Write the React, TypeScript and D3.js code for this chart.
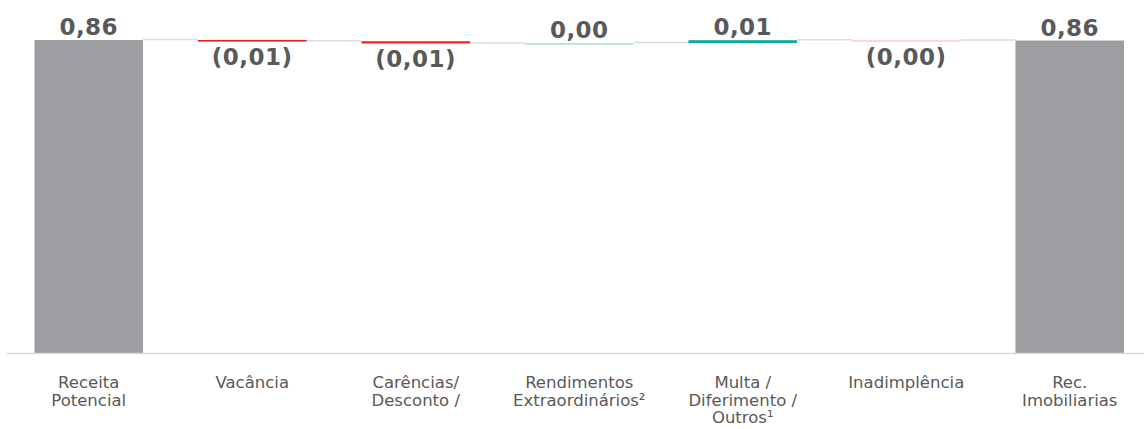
import React, { useRef, useEffect } from 'react';
import * as d3 from 'd3';

// categories (line-broken as in the chart)
const categories: string[][] = [
  ['Receita', 'Potencial'],
  ['Vacância'],
  ['Carências/', 'Desconto /'],
  ['Rendimentos', 'Extraordinários²'],
  ['Multa /', 'Diferimento /', 'Outros¹'],
  ['Inadimplência'],
  ['Rec.', 'Imobiliarias'],
];

// step values; first and last are totals
const values = [0.86, -0.0035, -0.006, 0.001, 0.008, -0.001, 0.8585];
const isTotal = [true, false, false, false, false, false, true];
const valueLabels = ['0,86', '(0,01)', '(0,01)', '0,00', '0,01', '(0,00)', '0,86'];

const barColors = ['#9d9ea2', '#ee1c1c', '#ff1a1a', '#a6e3dd', '#13ab9c', '#f9cfcf', '#9d9ea2'];

const W = 1145;
const H = 429;
const FONT = '"DejaVu Sans", Verdana, sans-serif';

const App: React.FC = () => {
  const svgRef = useRef<SVGSVGElement | null>(null);

  useEffect(() => {
    if (!svgRef.current) return;
    const svg = d3.select(svgRef.current);
    svg.selectAll('*').remove();

    const x = d3.scaleBand<number>()
      .domain(d3.range(categories.length))
      .range([7, 1151.5])
      .paddingInner(0.336)
      .paddingOuter(0.168);

    const y = d3.scaleLinear().domain([0, 0.86]).range([353, 40]);

    // running waterfall levels
    let level = 0;
    const bars = values.map((v, i) => {
      let start: number, end: number;
      if (isTotal[i]) {
        start = 0;
        end = v;
      } else {
        start = level;
        end = level + v;
      }
      level = end;
      return { i, start, end, v };
    });

    const bw = x.bandwidth();

    // connectors
    svg.append('g')
      .selectAll('line')
      .data(bars.slice(0, -1))
      .enter()
      .append('line')
      .attr('x1', d => (x(d.i) as number) + bw)
      .attr('x2', d => x(d.i + 1) as number)
      .attr('y1', d => y(d.end) - 0.5)
      .attr('y2', d => y(d.end) - 0.5)
      .attr('stroke', '#dcdcdc')
      .attr('stroke-width', 1.5);

    // bars
    svg.append('g')
      .selectAll('rect')
      .data(bars)
      .enter()
      .append('rect')
      .attr('x', d => x(d.i) as number)
      .attr('width', bw)
      .attr('y', d => y(Math.max(d.start, d.end)))
      .attr('height', d => Math.max(1.6, Math.abs(y(d.start) - y(d.end))))
      .attr('fill', d => barColors[d.i]);

    // axis line
    svg.append('line')
      .attr('x1', 7)
      .attr('x2', 1144)
      .attr('y1', y(0) + 0.5)
      .attr('y2', y(0) + 0.5)
      .attr('stroke', '#d9d9d9')
      .attr('stroke-width', 1.5);

    // value labels
    svg.append('g')
      .selectAll('text')
      .data(bars)
      .enter()
      .append('text')
      .attr('x', d => (x(d.i) as number) + bw / 2)
      .attr('y', d => d.v < 0 ? y(Math.min(d.start, d.end)) + 24 : y(Math.max(d.start, d.end)) - 5)
      .attr('text-anchor', 'middle')
      .attr('font-family', FONT)
      .attr('font-weight', 'bold')
      .attr('font-size', 23)
      .attr('letter-spacing', 0.5)
      .attr('fill', '#595959')
      .text(d => valueLabels[d.i]);

    // category labels
    const cat = svg.append('g')
      .selectAll('text')
      .data(categories)
      .enter()
      .append('text')
      .attr('x', (_d, i) => (x(i) as number) + bw / 2)
      .attr('y', 388)
      .attr('text-anchor', 'middle')
      .attr('font-family', FONT)
      .attr('font-size', 16.5)
      .attr('fill', '#595959');

    cat.selectAll('tspan')
      .data(d => d)
      .enter()
      .append('tspan')
      .attr('x', function () {
        return (this.parentNode as SVGTextElement).getAttribute('x');
      })
      .attr('dy', (_d, j) => (j === 0 ? 0 : 17.5))
      .text(d => d);
  }, []);

  return (
    <svg
      ref={svgRef}
      width={W}
      height={H}
      style={{ position: 'absolute', left: 0, top: 0, background: '#fff' }}
    ></svg>
  );
};

export default App;
